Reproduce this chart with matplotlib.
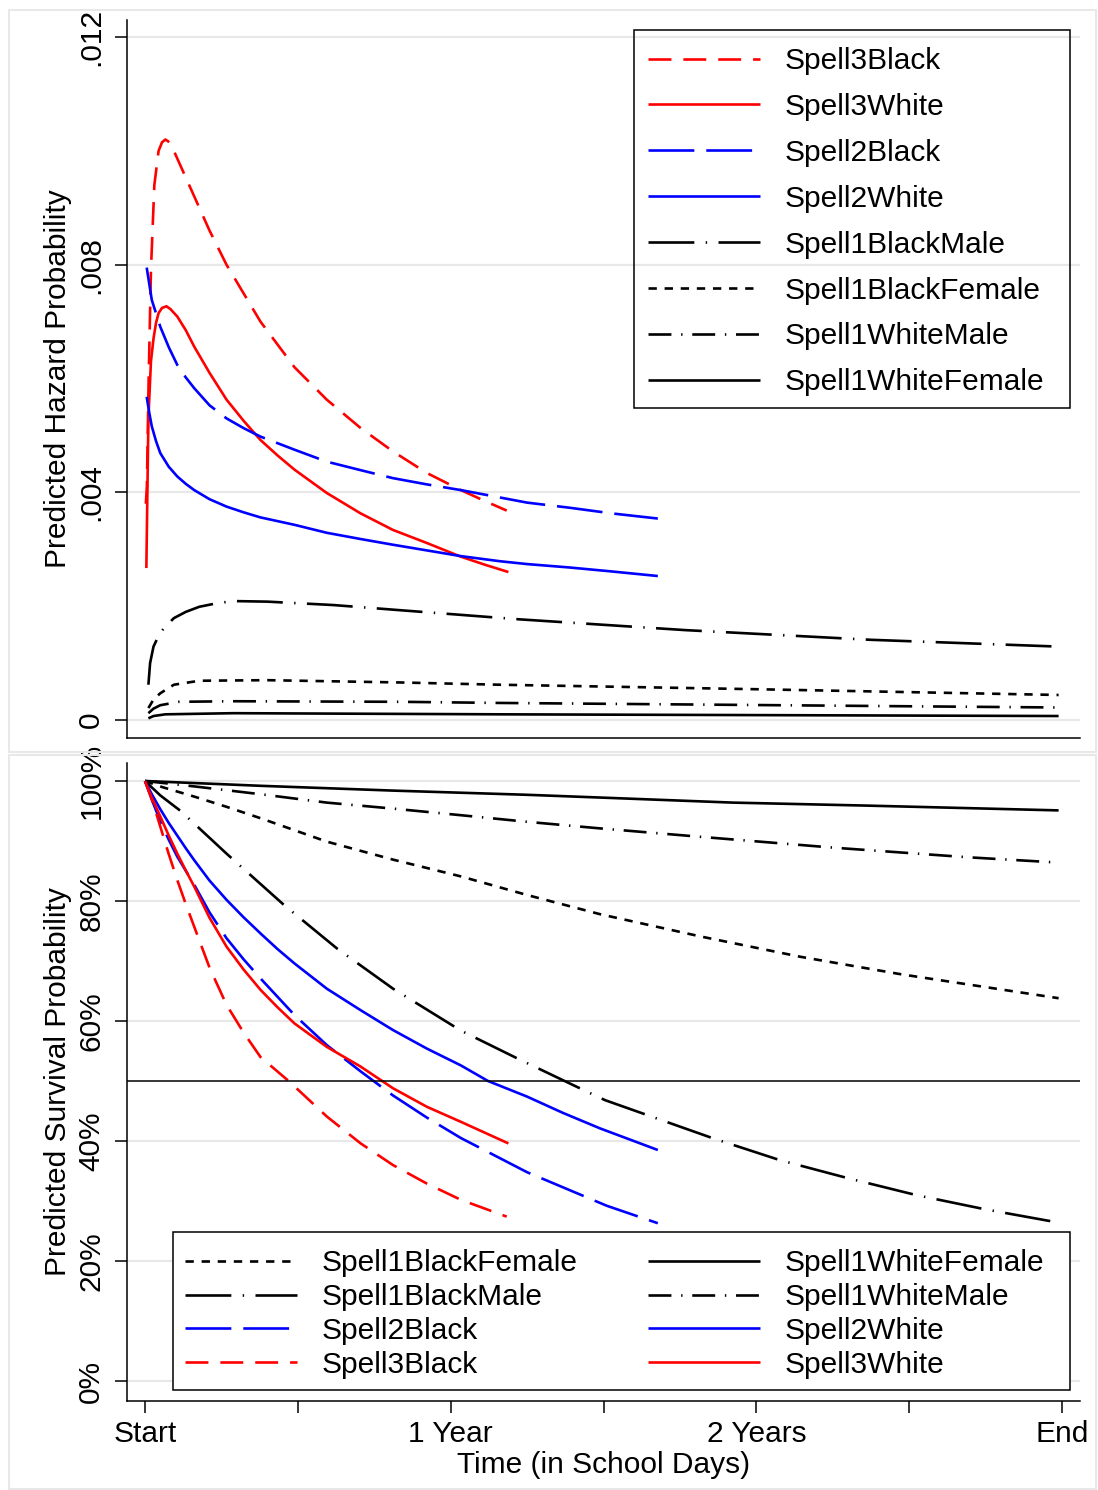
import numpy as np
import matplotlib.pyplot as plt
from matplotlib.patches import Rectangle

plt.rcParams['font.family'] = ['Liberation Sans', 'DejaVu Sans']
plt.rcParams['lines.scale_dashes'] = False

# ---- predicted hazard (top panel) ----
hz_s3b_days = [0.5, 1.1, 2.1, 3.5, 5.5, 8, 10, 12, 14.5, 17, 20, 23, 29, 38, 48, 58, 68, 78, 88, 107, 127, 146,
               166, 186, 200, 213]
hz_s3b = [0.0038, 0.0041, 0.0059, 0.0079, 0.0094, 0.0100, 0.01015, 0.0102, 0.01015, 0.0100, 0.0098, 0.0096,
          0.0092, 0.0086, 0.0080, 0.0075, 0.0070, 0.0066, 0.0062, 0.00563, 0.00513, 0.00472, 0.00434, 0.00404,
          0.00385, 0.00368]

hz_s3w_days = [0.8, 2, 3.5, 5, 6.5, 8, 10, 12.6, 15, 19, 24, 29, 38, 48, 58, 68, 78, 88, 107, 127, 146, 166, 186,
               200, 214]
hz_s3w = [0.00267, 0.0053, 0.0063, 0.0067, 0.00698, 0.00715, 0.00724, 0.00727, 0.00722, 0.00709, 0.00685,
          0.00656, 0.0061, 0.00563, 0.00526, 0.00492, 0.00465, 0.0044, 0.00399, 0.00363, 0.00334, 0.00311,
          0.00287, 0.00273, 0.0026]

hz_s2b_days = [1, 4, 9, 14, 19, 24, 29, 38, 48, 58, 68, 88, 107, 127, 146, 166, 186, 209, 225, 250, 275, 302]
hz_s2b = [0.00795, 0.00738, 0.00691, 0.00655, 0.00624, 0.00602, 0.00583, 0.00553, 0.0053, 0.00513, 0.00498,
          0.00475, 0.00454, 0.00439, 0.00425, 0.00414, 0.00404, 0.00391, 0.00382, 0.00373, 0.00363, 0.00354]

hz_s2w_days = [1, 2.5, 4, 6.5, 9, 14, 19, 24, 29, 38, 48, 58, 68, 88, 107, 127, 146, 166, 186, 209, 225, 250, 275,
               302]
hz_s2w = [0.00568, 0.0054, 0.00516, 0.0049, 0.00469, 0.00445, 0.00428, 0.00415, 0.00404, 0.00388, 0.00375,
          0.00365, 0.00356, 0.00343, 0.00329, 0.00318, 0.00308, 0.00298, 0.00288, 0.00279, 0.00274, 0.00268,
          0.00261, 0.00253]

hz_s1bm_days = [2, 3, 5, 8, 11, 17, 24, 32, 42, 52, 72, 111, 150, 220, 318, 427, 538]
hz_s1bm = [0.00062, 0.0010, 0.00129, 0.00148, 0.00161, 0.00179, 0.0019, 0.00199, 0.00205, 0.00209, 0.00208,
           0.00202, 0.00193, 0.00177, 0.00158, 0.00141, 0.00129]

hz_s1bf_days = [2, 5, 9, 17, 32, 72, 150, 209, 362, 538]
hz_s1bf = [0.00021, 0.00036, 0.00047, 0.00062, 0.00069, 0.0007, 0.00066, 0.00062, 0.00054, 0.00044]

hz_s1wm_days = [2, 5, 9, 20, 52, 150, 209, 538]
hz_s1wm = [0.00012, 0.0002, 0.00026, 0.00032, 0.00033, 0.00032, 0.0003, 0.00022]

hz_s1wf_days = [2, 5, 12, 52, 209, 538]
hz_s1wf = [0.00003, 0.00007, 0.0001, 0.00012, 0.0001, 0.00007]

# ---- predicted survival in percent (bottom panel) ----
sv_s3b_days = [0, 4, 9, 14, 19, 24, 29, 38, 48, 58, 68, 85, 107, 127, 146, 166, 186, 213]
sv_s3b = [100, 97.0, 92.4, 87.8, 83.5, 79.5, 75.7, 68.9, 62.7, 58.1, 54.0, 49.9, 44.1, 39.6, 36.0, 32.9, 30.2, 27.4]

sv_s3w_days = [0, 4, 9, 14, 19, 24, 29, 38, 48, 58, 68, 78, 88, 107, 127, 146, 166, 186, 214]
sv_s3w = [100, 97.2, 94.1, 90.9, 87.9, 85.1, 82.4, 77.2, 72.4, 68.6, 65.2, 62.3, 59.6, 55.7, 52.4, 48.8, 45.7,
          43.2, 39.6]

sv_s2b_days = [0, 4, 9, 14, 19, 29, 38, 48, 58, 68, 88, 107, 127, 146, 166, 186, 225, 272, 302]
sv_s2b = [100, 96.9, 93.3, 90.2, 87.4, 82.7, 78.1, 73.8, 70.3, 67.1, 61.0, 56.0, 51.6, 47.6, 43.9, 40.5, 34.8,
          29.2, 26.3]

sv_s2w_days = [0, 4, 9, 14, 19, 24, 29, 38, 48, 58, 68, 78, 88, 107, 127, 146, 166, 186, 202, 225, 246, 268, 302]
sv_s2w = [100, 97.8, 95.3, 93.0, 90.9, 88.8, 86.8, 83.4, 80.2, 77.3, 74.6, 72.0, 69.6, 65.4, 61.8, 58.5, 55.4,
          52.6, 50.0, 47.4, 44.7, 42.1, 38.5]

sv_s1bm_days = [0, 9, 21, 48, 82, 113, 146, 186, 219, 256, 271, 335, 374, 414, 454, 495, 538]
sv_s1bm = [100, 97.6, 95.0, 87.9, 79.3, 72.1, 65.4, 58.4, 53.8, 48.8, 46.8, 40.4, 36.8, 33.8, 31.0, 28.6, 26.4]

sv_s1bf_days = [0, 10, 29, 48, 68, 107, 146, 186, 225, 268, 327, 386, 445, 538]
sv_s1bf = [100, 99.0, 97.4, 95.7, 93.8, 89.9, 86.9, 84.1, 81.0, 77.8, 74.1, 70.7, 67.8, 63.8]

sv_s1wm_days = [0, 29, 68, 107, 146, 186, 225, 268, 327, 405, 484, 538]
sv_s1wm = [100, 99.1, 97.8, 96.4, 95.4, 94.3, 93.2, 92.1, 90.7, 88.9, 87.3, 86.4]

sv_s1wf_days = [0, 68, 146, 225, 272, 346, 425, 538]
sv_s1wf = [100, 99.2, 98.4, 97.7, 97.2, 96.4, 95.9, 95.1]

x_ticks = [0, 90, 180, 270, 360, 450, 540]
x_labels = ['Start', '', '1 Year', '', '2 Years', '', 'End']
hz_ticks = [0, 0.004, 0.008, 0.012]
hz_labels = ['0', '.004', '.008', '.012']
sv_ticks = [0, 20, 40, 60, 80, 100]
sv_labels = ['0%', '20%', '40%', '60%', '80%', '100%']

# line styles (dash patterns in points)
styles = {
    'Spell3Black': dict(color='red', dashes=(16.5, 8.6)),
    'Spell3White': dict(color='red', ls='-'),
    'Spell2Black': dict(color='blue', dashes=(33, 8.6)),
    'Spell2White': dict(color='blue', ls='-'),
    'Spell1BlackMale': dict(color='black', dashes=(33, 8.2, 1.0, 8.2)),
    'Spell1BlackFemale': dict(color='black', dashes=(6, 5.6)),
    'Spell1WhiteMale': dict(color='black', dashes=(16.5, 7.0, 1.0, 7.0)),
    'Spell1WhiteFemale': dict(color='black', ls='-'),
}

hazard = {
    'Spell3Black': (hz_s3b_days, hz_s3b),
    'Spell3White': (hz_s3w_days, hz_s3w),
    'Spell2Black': (hz_s2b_days, hz_s2b),
    'Spell2White': (hz_s2w_days, hz_s2w),
    'Spell1BlackMale': (hz_s1bm_days, hz_s1bm),
    'Spell1BlackFemale': (hz_s1bf_days, hz_s1bf),
    'Spell1WhiteMale': (hz_s1wm_days, hz_s1wm),
    'Spell1WhiteFemale': (hz_s1wf_days, hz_s1wf),
}
survival = {
    'Spell1BlackFemale': (sv_s1bf_days, sv_s1bf),
    'Spell1BlackMale': (sv_s1bm_days, sv_s1bm),
    'Spell2Black': (sv_s2b_days, sv_s2b),
    'Spell3Black': (sv_s3b_days, sv_s3b),
    'Spell1WhiteFemale': (sv_s1wf_days, sv_s1wf),
    'Spell1WhiteMale': (sv_s1wm_days, sv_s1wm),
    'Spell2White': (sv_s2w_days, sv_s2w),
    'Spell3White': (sv_s3w_days, sv_s3w),
}

W, H = 1098, 1490
FS = 21.5
LW = 1.9


def fig_rect(x0, y0, x1, y1, **kw):
    # rectangle given in pixel coords measured from the top-left corner
    kw.setdefault('fill', False)
    return Rectangle((x0 / W, 1 - y1 / H), (x1 - x0) / W, (y1 - y0) / H,
                     transform=fig.transFigure, **kw)


fig = plt.figure(figsize=(W / 100, H / 100), dpi=100)

# light outer frames around each panel
for y0, y1 in [(10, 752), (755, 1489)]:
    fig.patches.append(fig_rect(9, y0, 1096, y1, ec='#e8e8e8', lw=1.5))

ax1 = fig.add_axes([127 / W, 1 - 738 / H, 953 / W, 718 / H])
ax2 = fig.add_axes([127 / W, 1 - 1401 / H, 953 / W, 638 / H])


def style_axes(ax):
    for side in ['top', 'right']:
        ax.spines[side].set_visible(False)
    for side in ['left', 'bottom']:
        ax.spines[side].set_linewidth(1.1)
    ax.set_xlim(-10.6, 550.6)
    ax.tick_params(axis='y', length=8.6, width=1.1, pad=7, labelsize=FS)
    ax.grid(axis='y', color='#e8e8e8', lw=1.6)
    ax.set_axisbelow(True)


style_axes(ax1)
style_axes(ax2)

# top: hazard
for name, (d, v) in hazard.items():
    ax1.plot(d, v, lw=LW, label=name, solid_capstyle='butt', **styles[name])
ax1.set_ylim(-0.000316, 0.0123)
ax1.set_yticks(hz_ticks, hz_labels)
ax1.set_xticks([])
plt.setp(ax1.get_yticklabels(), rotation=90, va='center')
ax1.set_ylabel('Predicted Hazard Probability', fontsize=FS, labelpad=4)

ax1.legend(loc='upper left', bbox_to_anchor=(648 / W, 1 - 47 / H),
           bbox_transform=fig.transFigure, fontsize=FS, frameon=False,
           handlelength=3.75, handletextpad=0.84, labelspacing=0.6,
           borderpad=0, borderaxespad=0)
fig.patches.append(fig_rect(634, 30, 1070, 408, ec='black', lw=1.1, zorder=5))

# bottom: survival
for name, (d, v) in survival.items():
    ax2.plot(d, v, lw=LW, label=name, solid_capstyle='butt', **styles[name])
ax2.axhline(50, color='black', lw=1.1)
ax2.set_ylim(-3.33, 103)
ax2.set_yticks(sv_ticks, sv_labels)
plt.setp(ax2.get_yticklabels(), rotation=90, va='center')
ax2.set_xticks(x_ticks, x_labels)
ax2.tick_params(axis='x', length=8.6, width=1.1, pad=5, labelsize=FS)
ax2.set_ylabel('Predicted Survival Probability', fontsize=FS, labelpad=4)
ax2.set_xlabel('Time (in School Days)', fontsize=FS, labelpad=2)

# lower legend sits on the figure so it stays above its white box
fig.patches.append(fig_rect(173, 1232, 1070, 1390, fill=True, fc='white',
                            ec='black', lw=1.1, zorder=4))
handles, labels = ax2.get_legend_handles_labels()
leg2 = fig.legend(handles, labels, loc='upper left',
                  bbox_to_anchor=(185 / W, 1 - 1249 / H),
                  bbox_transform=fig.transFigure, ncol=2, fontsize=FS,
                  frameon=False, handlelength=3.75, handletextpad=0.84,
                  labelspacing=0.2, columnspacing=2.34, borderpad=0,
                  borderaxespad=0)
leg2.set_zorder(6)

fig.savefig('out.png', dpi=100)
